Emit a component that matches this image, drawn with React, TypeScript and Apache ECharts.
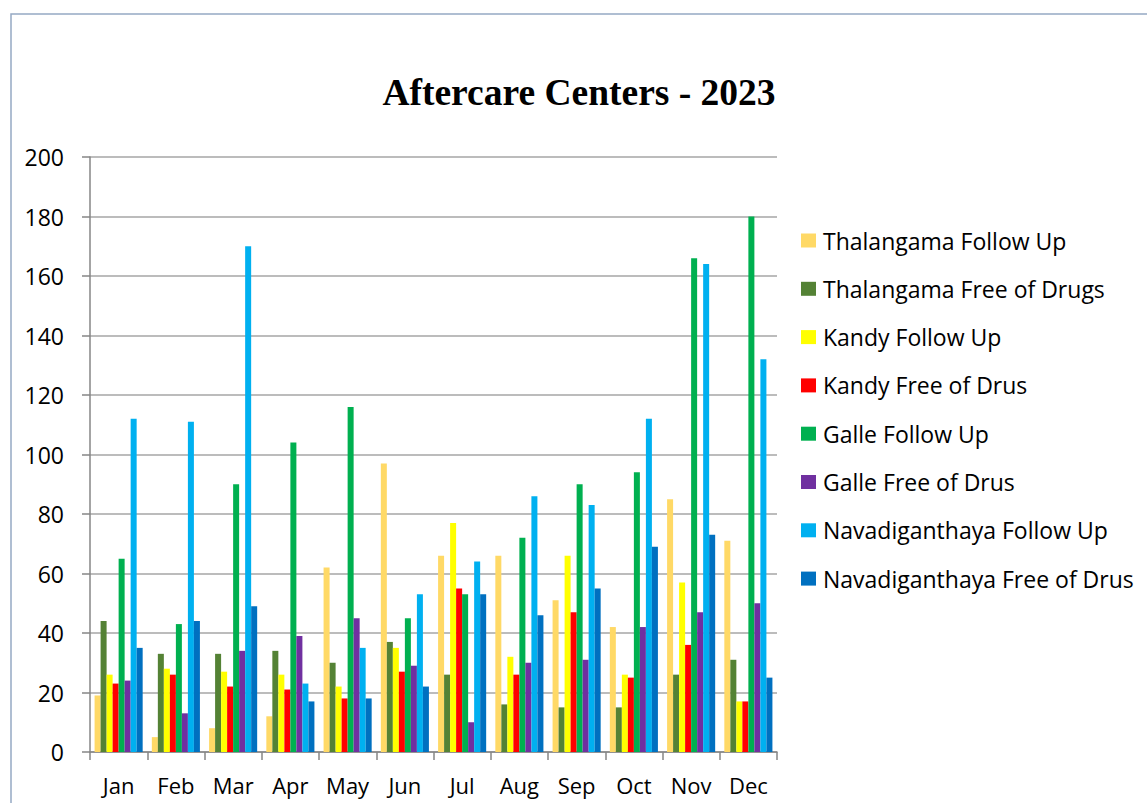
import React, { useEffect, useRef } from "react";
import * as echarts from "echarts";

const months = ["Jan", "Feb", "Mar", "Apr", "May", "Jun", "Jul", "Aug", "Sep", "Oct", "Nov", "Dec"];
const seriesNames = [
  "Thalangama Follow Up",
  "Thalangama Free of Drugs",
  "Kandy Follow Up",
  "Kandy Free of Drus",
  "Galle Follow Up",
  "Galle Free of Drus",
  "Navadiganthaya Follow Up",
  "Navadiganthaya Free of Drus",
];
const colors = ["#FFD966", "#548235", "#FFFF00", "#FF0000", "#00B050", "#7030A0", "#00B0F0", "#0070C0"];

const thalangamaFollowUp = [19, 5, 8, 12, 62, 97, 66, 66, 51, 42, 85, 71];
const thalangamaFree = [44, 33, 33, 34, 30, 37, 26, 16, 15, 15, 26, 31];
const kandyFollowUp = [26, 28, 27, 26, 22, 35, 77, 32, 66, 26, 57, 17];
const kandyFree = [23, 26, 22, 21, 18, 27, 55, 26, 47, 25, 36, 17];
const galleFollowUp = [65, 43, 90, 104, 116, 45, 53, 72, 90, 94, 166, 180];
const galleFree = [24, 13, 34, 39, 45, 29, 10, 30, 31, 42, 47, 50];
const navFollowUp = [112, 111, 170, 23, 35, 53, 64, 86, 83, 112, 164, 132];
const navFree = [35, 44, 49, 17, 18, 22, 53, 46, 55, 69, 73, 25];

const allData = [thalangamaFollowUp, thalangamaFree, kandyFollowUp, kandyFree, galleFollowUp, galleFree, navFollowUp, navFree];

export default function App() {
  const ref = useRef<HTMLDivElement>(null);
  useEffect(() => {
    if (!ref.current) return;
    const chart = echarts.init(ref.current, undefined, { renderer: "svg" });
    chart.setOption({
      animation: false,
      backgroundColor: "#ffffff",
      title: {
        text: "Aftercare Centers - 2023",
        left: 574,
        top: 68,
        textAlign: "center",
        textStyle: { fontFamily: "Liberation Serif", fontWeight: "bold", fontSize: 37.5, color: "#000" },
      },
      graphic: [
        {
          type: "polyline",
          shape: { points: [[11, 803], [11, 14], [1147, 14]] },
          style: { stroke: "#95A9C4", lineWidth: 1.5, fill: "none" },
        },
      ],
      legend: {
        orient: "vertical",
        left: 796,
        top: 224,
        itemWidth: 15,
        itemHeight: 14,
        itemGap: 25.3,
        icon: "rect",
        textStyle: { fontFamily: "Open Sans", fontSize: 23, color: "#000", padding: [0, 0, 0, 2] },
        data: seriesNames,
      },
      grid: { left: 90, top: 157, width: 687, height: 595, containLabel: false },
      xAxis: {
        type: "category",
        data: months,
        axisLine: { lineStyle: { color: "#868686", width: 1.5 } },
        axisTick: { show: true, length: 8, lineStyle: { color: "#868686", width: 1.5 } },
        axisLabel: { interval: 0, fontFamily: "Open Sans", fontSize: 22, color: "#000", margin: 22 },
      },
      yAxis: {
        type: "value",
        min: 0,
        max: 200,
        interval: 20,
        axisLine: { show: true, lineStyle: { color: "#868686", width: 1.5 } },
        axisTick: { show: true, length: 8, lineStyle: { color: "#868686", width: 1.5 } },
        splitLine: { lineStyle: { color: "#A6A6A6", width: 1.5 } },
        axisLabel: { fontFamily: "Open Sans", fontSize: 23, color: "#000", margin: 26 },
      },
      series: seriesNames.map((name, i) => ({
        name,
        type: "bar",
        data: allData[i],
        barGap: "0%",
        barCategoryGap: "16%",
        itemStyle: { color: colors[i] },
      })),
    });
    return () => chart.dispose();
  }, []);
  return <div ref={ref} style={{ position: "fixed", left: 0, top: 0, width: 1147, height: 803 }} />;
}
